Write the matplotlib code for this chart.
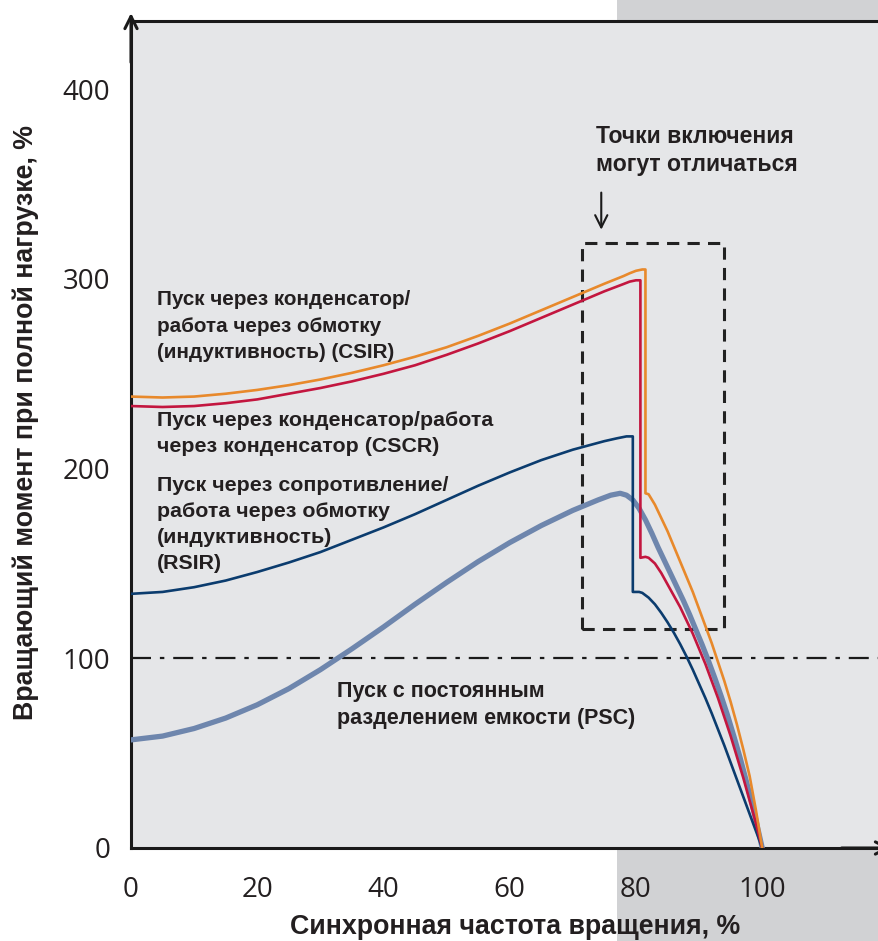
import matplotlib
matplotlib.use("Agg")
import matplotlib.pyplot as plt
from matplotlib.patches import Rectangle

# ---- data ----
csir_x = [0, 5, 10, 15, 20, 25, 30, 35, 40, 45, 50, 55, 60, 65, 70, 75, 78, 79, 80, 81, 81.5,
          81.5, 82, 83, 84, 85, 86, 87, 88, 89, 90, 91, 92, 93, 94, 95, 96, 97, 98, 99, 100]
csir_y = [238, 237.5, 238, 239.5, 241.5, 244, 247, 250.5, 254.5, 259, 264, 270, 276.5, 283.5, 290.5, 297.5, 301.5, 303, 304.3, 305, 305,
          187, 186.5, 181, 174, 167, 159, 151, 143, 135, 126, 117, 108, 98, 88, 77, 65, 52, 38, 20, 0]

cscr_x = [0, 5, 10, 15, 20, 25, 30, 35, 40, 45, 50, 55, 60, 65, 70, 75, 78, 79, 80, 80.7,
          80.7, 81.5, 82, 83, 84, 85, 86, 87, 88, 89, 90, 91, 92, 93, 94, 95, 96, 97, 98, 99, 100]
cscr_y = [233, 232.5, 233, 234.5, 236.5, 239.5, 242.5, 246, 250, 254.5, 260, 266, 272.5, 279.5, 286.5, 293.5, 297.3, 298.6, 299.3, 299.3,
          153, 153.5, 153, 150, 145, 139, 133, 127, 120, 113, 105, 97, 88, 79, 69, 59, 48, 37, 25, 13, 0]

rsir_x = [0, 5, 10, 15, 20, 25, 30, 35, 40, 45, 50, 55, 60, 65, 70, 75, 77, 78.5, 79.5,
          79.5, 80.5, 81, 82, 83, 84, 85, 86, 87, 88, 89, 90, 91, 92, 93, 94, 95, 96, 97, 98, 99, 100]
rsir_y = [134, 135, 137.5, 141, 145.5, 150.5, 156, 162.5, 169, 176, 183.5, 191, 198, 204.5, 210, 214.5, 216, 217, 217,
          135, 135, 134.5, 132, 128.5, 124, 119, 113.5, 107.5, 101, 94, 86.5, 79, 71, 62.5, 54, 45, 36, 27, 18, 9, 0]

psc_x = [0, 5, 10, 15, 20, 25, 30, 35, 40, 45, 50, 55, 60, 65, 70, 74, 76, 77.5, 78.5, 79.5,
         80.5, 81.5, 82.5, 83.5, 84.5, 85.5, 86.5, 87.5, 88.5, 89.5, 90.5, 91.5, 92.5, 93.5,
         94.5, 95.5, 96.5, 97.5, 98.5, 100]
psc_y = [57, 59, 63, 68.5, 75.5, 84, 94, 105, 116.5, 128.5, 140, 151, 161, 170, 178, 183.5, 186, 187, 186, 183.5,
         179, 173, 166, 158.5, 151.5, 144.5, 137.5, 130.5, 123, 115, 107, 98.5, 89.5, 80,
         70, 59, 47.5, 35, 22, 0]

x_ticks = [0, 20, 40, 60, 80, 100]
y_ticks = [0, 100, 200, 300, 400]

label_csir = "Пуск через конденсатор/\nработа через обмотку\n(индуктивность) (CSIR)"
label_cscr = "Пуск через конденсатор/работа\nчерез конденсатор (CSCR)"
label_rsir = "Пуск через сопротивление/\nработа через обмотку\n(индуктивность)\n(RSIR)"
label_psc = "Пуск с постоянным\nразделением емкости (PSC)"
note_text = "Точки включения\nмогут отличаться"
x_label = "Синхронная частота вращения, %"
y_label = "Вращающий момент при полной нагрузке, %"

# ---- styling ----
W, H, DPI = 879, 941, 100
fig = plt.figure(figsize=(W / DPI, H / DPI), dpi=DPI)
fig.patch.set_facecolor("white")
fig.patches.append(Rectangle((617 / W, 0), 1 - 617 / W, 1, transform=fig.transFigure,
                             facecolor="#d1d2d4", edgecolor="none", zorder=-10))

ax = fig.add_axes([131 / W, (941 - 848) / H, 1 - 131 / W, (848 - 21) / H])
ax.set_zorder(1)
ax.set_facecolor("#e5e6e8")
ax.set_xlim(0, 118.5)
ax.set_ylim(0, 436)

for s in ["left", "bottom", "top"]:
    ax.spines[s].set_color("#1a1a1a")
    ax.spines[s].set_linewidth(2.2)
ax.spines["right"].set_visible(False)

tick_font = dict(family=["Open Sans", "DejaVu Sans"], size=20, color="#231f20")
ax.set_xticks(x_ticks)
ax.set_yticks(y_ticks)
ax.set_xticklabels([str(v) for v in x_ticks], **tick_font)
ax.set_yticklabels([str(v) for v in y_ticks], **tick_font)
ax.tick_params(axis="both", length=0)
ax.tick_params(axis="x", pad=20)
ax.tick_params(axis="y", pad=15)

lab_font = dict(family=["Liberation Sans", "DejaVu Sans"], weight="bold", size=19.3, color="#231f20")
fig.text(515 / W, 1 - 927 / H, x_label, ha="center", va="center", **lab_font)
fig.text(26 / W, 1 - 423 / H, y_label, ha="center", va="center", rotation=90, **lab_font)

# reference lines
ax.axhline(100, color="#1a1a1a", lw=1.6, linestyle=(0, (9, 4, 2, 4)), zorder=2)
ax.add_patch(Rectangle((71.5, 115.4), 94 - 71.5, 318.7 - 115.4, fill=False,
                       edgecolor="#222222", lw=2.2, linestyle=(0, (4, 2.7)), zorder=2))

# curves
ax.plot(psc_x, psc_y, color="#6e86ad", lw=3.8, zorder=3, solid_joinstyle="round")
ax.plot(rsir_x, rsir_y, color="#0b3c6e", lw=1.9, zorder=4)
ax.plot(cscr_x, cscr_y, color="#c3163f", lw=1.9, zorder=4)
ax.plot(csir_x, csir_y, color="#e8892b", lw=1.9, zorder=4)

# texts
txt = dict(family=["Liberation Sans", "DejaVu Sans"], weight="bold",
           color="#231f20", ha="left", va="center")
ax.text(4.1, 275.0, label_csir, size=14.9, linespacing=1.5, **txt)
ax.text(4.1, 218.6, label_cscr, size=15.4, linespacing=1.42, **txt)
ax.text(4.1, 170.5, label_rsir, size=15.4, linespacing=1.45, **txt)
ax.text(32.6, 75.3, label_psc, size=15.5, linespacing=1.4, **txt)
ax.text(73.7, 367.8, note_text, size=16.6, linespacing=1.3, **txt)

ax.annotate("", xy=(74.5, 324.5), xytext=(74.5, 347),
            arrowprops=dict(arrowstyle="->", lw=1.5, color="#1a1a1a", mutation_scale=22))

# axis arrows
ax.annotate("", xy=(0, 1 + 8 / 827), xytext=(0, 0.95), xycoords="axes fraction",
            arrowprops=dict(arrowstyle="->", lw=2.2, color="#1a1a1a", mutation_scale=22,
                            shrinkA=0, shrinkB=0), annotation_clip=False)
ax.annotate("", xy=(1 + 12 / 748, 0), xytext=(0.95, 0), xycoords="axes fraction",
            arrowprops=dict(arrowstyle="->", lw=2.2, color="#1a1a1a", mutation_scale=22,
                            shrinkA=0, shrinkB=0), annotation_clip=False)

fig.savefig("out.png", dpi=DPI)
